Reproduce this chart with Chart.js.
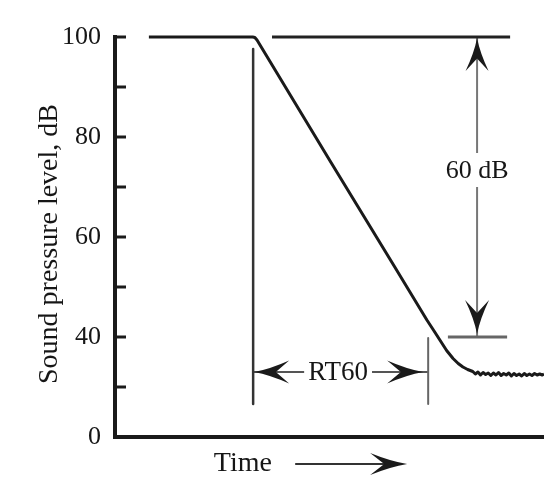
<!DOCTYPE html>
<html>
<head>
<meta charset="utf-8">
<script src="https://cdn.jsdelivr.net/npm/chart.js@4/dist/chart.umd.min.js"></script>
<style>
  html, body { margin: 0; padding: 0; background: #ffffff; }
  #wrap { width: 544px; height: 502px; }
</style>
</head>
<body>
<div id="wrap"><canvas id="c" width="544" height="502"></canvas></div>
<script>
// ---- Data (time in arbitrary units 0..100, level on the drawn dB scale) ----
const curveTime  = [7.9, 32.1, 32.6, 33.1, 50.0, 65.0, 72.7, 74.3, 75.8, 77.3, 78.8, 80.0, 81.1, 82.2, 83.4,
                    84.0, 84.6, 85.2, 85.8, 86.4, 87.0, 87.6, 88.2, 88.8, 89.4, 90.0,
                    90.6, 91.2, 91.8, 92.4, 93.0, 93.6, 94.2, 94.8, 95.4, 96.0,
                    96.6, 97.2, 97.8, 98.4, 99.0, 99.6, 100.0];
const curveLevel = [100, 100, 99.9, 99.4, 75.4, 54.3, 43.4, 41.3, 39.3, 37.3, 35.7, 34.7, 34.0, 33.5, 33.1,
                    32.6, 33.0, 32.4, 32.9, 32.5, 32.8, 32.3, 32.8, 32.4, 32.9, 32.3,
                    32.7, 32.4, 32.8, 32.2, 32.7, 32.3, 32.6, 32.2, 32.7, 32.3,
                    32.6, 32.3, 32.7, 32.4, 32.6, 32.4, 32.6];

// Y axis ticks (axis is broken: bottom of axis is labelled 0)
const yTickValues   = [100, 80, 60, 40, 20];
const yTickLabels   = ['100', '80', '60', '40', '0'];

// Annotations (in data units)
const rt60StartTime = 32.2;
const rt60EndTime   = 73.0;
const rt60ArrowLevel = 33.0;
const rt60LabelTime  = 52.0;
const startLineLevels = [97.6, 26.6];
const endLineLevels   = [39.8, 26.6];
const topRefTimes     = [36.6, 92.1];
const topRefLevel     = 100;
const bottomRefTimes  = [77.6, 91.4];
const bottomRefLevel  = 40;
const spanArrowTime   = 84.4;
const spanLabelLevel  = 73.4;
const spanLabel       = '60 dB';
const rt60Label       = 'RT60';
const xTitle          = 'Time';
const xTitleTime      = 29.8;
const xArrowTimes     = [42.0, 68.1];
const yTitle          = 'Sound pressure level, dB\u00A0\u00A0';

const FONT = '"Liberation Serif", "DejaVu Serif", serif';
const TEXT = '#161616';
Chart.defaults.font.family = FONT;

function pts(xs, ys) { return xs.map((x, i) => ({x: x, y: ys[i]})); }

function arrowHead(ctx, tx, ty, dx, dy, L, W, color) {
  // barbed, filled arrowhead; tip at (tx,ty), pointing along (dx,dy)
  const nx = -dy, ny = dx;
  const bx = tx - dx * L, by = ty - dy * L;
  const notchX = tx - dx * L * 0.62, notchY = ty - dy * L * 0.62;
  const midX = tx - dx * L * 0.45, midY = ty - dy * L * 0.45;
  ctx.save();
  ctx.fillStyle = color;
  ctx.beginPath();
  ctx.moveTo(tx, ty);
  ctx.quadraticCurveTo(midX + nx * W * 0.25, midY + ny * W * 0.25, bx + nx * W, by + ny * W);
  ctx.lineTo(notchX, notchY);
  ctx.lineTo(bx - nx * W, by - ny * W);
  ctx.quadraticCurveTo(midX - nx * W * 0.25, midY - ny * W * 0.25, tx, ty);
  ctx.closePath();
  ctx.fill();
  ctx.restore();
}

function labelWithGap(ctx, text, x, y, size, padX, padY) {
  ctx.save();
  ctx.font = size + 'px ' + FONT;
  const w = ctx.measureText(text).width;
  ctx.fillStyle = '#ffffff';
  ctx.fillRect(x - w / 2 - padX, y - size / 2 - padY, w + 2 * padX, size + 2 * padY);
  ctx.fillStyle = TEXT;
  ctx.textAlign = 'center';
  ctx.textBaseline = 'middle';
  ctx.fillText(text, x, y + 1);
  ctx.restore();
}

const decorPlugin = {
  id: 'decor',
  afterDatasetsDraw(chart) {
    const ctx = chart.ctx;
    const xs = chart.scales.x, ys = chart.scales.y;
    const area = chart.chartArea;
    // inward tick marks on the y axis
    ctx.save();
    ctx.strokeStyle = '#1a1a1a';
    ctx.lineWidth = 3;
    ys.ticks.forEach(t => {
      if (t.value === ys.min) return;
      const py = ys.getPixelForValue(t.value);
      ctx.beginPath();
      ctx.moveTo(area.left, py);
      ctx.lineTo(area.left + 11, py);
      ctx.stroke();
    });
    ctx.restore();

    // 60 dB arrow heads
    const ax = xs.getPixelForValue(spanArrowTime);
    arrowHead(ctx, ax, ys.getPixelForValue(topRefLevel) + 1, 0, -1, 33, 11.5, '#1a1a1a');
    arrowHead(ctx, ax, ys.getPixelForValue(bottomRefLevel) - 3, 0, 1, 34, 12, '#1a1a1a');
    labelWithGap(ctx, spanLabel, ax, ys.getPixelForValue(spanLabelLevel), 26, 3, 4);

    // RT60 arrow heads
    const ry = ys.getPixelForValue(rt60ArrowLevel);
    arrowHead(ctx, xs.getPixelForValue(rt60StartTime) + 1, ry, -1, 0, 35, 11.5, '#1a1a1a');
    arrowHead(ctx, xs.getPixelForValue(rt60EndTime) - 5, ry, 1, 0, 36, 11.5, '#1a1a1a');
    labelWithGap(ctx, rt60Label, xs.getPixelForValue(rt60LabelTime), ry, 27, 4, 0);

    // X title "Time" with arrow
    const ty = area.bottom + 27;
    ctx.save();
    ctx.font = '28px ' + FONT;
    ctx.fillStyle = TEXT;
    ctx.textAlign = 'center';
    ctx.textBaseline = 'middle';
    ctx.fillText(xTitle, xs.getPixelForValue(xTitleTime), ty);
    const x0 = xs.getPixelForValue(xArrowTimes[0]);
    const x1 = xs.getPixelForValue(xArrowTimes[1]);
    ctx.strokeStyle = '#333333';
    ctx.lineWidth = 2;
    ctx.beginPath();
    ctx.moveTo(x0, ty);
    ctx.lineTo(x1 - 20, ty);
    ctx.stroke();
    ctx.restore();
    arrowHead(ctx, x1, ty, 1, 0, 37, 11, '#1a1a1a');
  }
};

const lineDs = (data, color, width) => ({
  data: data, borderColor: color, borderWidth: width, pointRadius: 0,
  tension: 0, fill: false, clip: false, showLine: true, borderJoinStyle: 'round'
});

new Chart(document.getElementById('c'), {
  type: 'scatter',
  data: {
    datasets: [
      lineDs(pts(curveTime, curveLevel), '#1a1a1a', 3),
      lineDs(pts([rt60StartTime, rt60StartTime], startLineLevels), '#333333', 2.5),
      lineDs(pts([rt60EndTime, rt60EndTime], endLineLevels), '#666666', 2),
      lineDs(pts(topRefTimes, [topRefLevel, topRefLevel]), '#222222', 3),
      lineDs(pts(bottomRefTimes, [bottomRefLevel, bottomRefLevel]), '#666666', 3),
      lineDs(pts([spanArrowTime, spanArrowTime], [topRefLevel, bottomRefLevel]), '#777777', 2),
      lineDs(pts([rt60StartTime, rt60EndTime], [rt60ArrowLevel, rt60ArrowLevel]), '#555555', 2)
    ]
  },
  options: {
    responsive: false,
    animation: false,
    events: [],
    layout: { padding: { top: 37, right: 0, bottom: 0, left: 0 } },
    plugins: { legend: { display: false }, tooltip: { enabled: false } },
    scales: {
      x: {
        type: 'linear', min: 0, max: 100,
        ticks: { display: false },
        grid: { display: true, drawOnChartArea: false, drawTicks: false },
        border: { display: true, color: '#1a1a1a', width: 4 },
        afterFit(scale) { scale.height = 65; }
      },
      y: {
        type: 'linear', min: 20, max: 100,
        ticks: {
          stepSize: 10,
          padding: 14,
          color: TEXT,
          font: { size: 26, family: FONT },
          callback(v) {
            const i = yTickValues.indexOf(v);
            return i >= 0 ? yTickLabels[i] : '';
          }
        },
        grid: { display: true, drawOnChartArea: false, drawTicks: false },
        border: { display: true, color: '#1a1a1a', width: 4 },
        title: {
          display: true, text: yTitle, color: TEXT,
          font: { size: 28, family: FONT },
          padding: { top: 33, bottom: 0 }
        },
        afterFit(scale) { scale.width = 115; }
      }
    }
  },
  plugins: [decorPlugin]
});
</script>
</body>
</html>
